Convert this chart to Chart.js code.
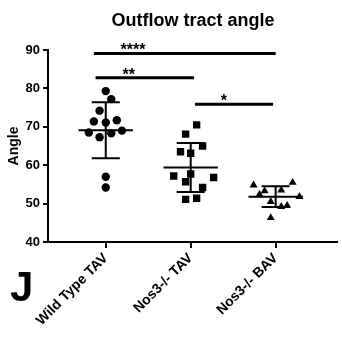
<!DOCTYPE html>
<html><head><meta charset="utf-8">
<script src="https://cdn.jsdelivr.net/npm/chart.js@4/dist/chart.umd.min.js"></script>
<style>html,body{margin:0;padding:0;background:#fff}#wrap{width:342px;height:337px;position:relative}</style>
</head><body><div id="wrap"><canvas id="c"></canvas></div>
<script>
const categories = ['Wild Type TAV', 'Nos3-/- TAV', 'Nos3-/- BAV'];
const yTicks = [40, 50, 60, 70, 80, 90];

const wildTypeValues = [79.3, 77.2, 74.2, 71.4, 71.1, 71.7, 68.5, 67.3, 68.3, 69.0, 57.0, 54.2];
const wildTypeJitter = [0.0, 0.065, -0.073, -0.14, 0.0, 0.13, -0.2, -0.073, 0.065, 0.19, 0.0, 0.0];

const nosTavValues = [70.5, 68.1, 65.0, 63.5, 63.1, 57.2, 57.7, 56.8, 55.7, 54.2, 51.1, 51.4];
const nosTavJitter = [0.07, -0.06, 0.14, -0.12, 0.0, -0.2, 0.0, 0.27, -0.06, 0.14, -0.06, 0.07];

const nosBavValues = [54.8, 55.5, 53.3, 52.4, 53.5, 51.8, 50.5, 49.2, 49.5, 46.3];
const nosBavJitter = [-0.26, 0.2, -0.13, -0.19, 0.066, 0.28, -0.058, 0.066, 0.135, -0.058];

const groupMeans = [69.1, 59.4, 51.8];
const groupSD = [7.3, 6.4, 2.7];

const sigLabels = ['****', '**', '*'];
const sigFrom = [-0.14, -0.12, 1.05];
const sigTo = [2.0, 1.04, 1.97];
const sigLevel = [89.1, 82.8, 75.9];
const sigLabelAt = [0.32, 0.27, 1.39];

const FONT = "'Liberation Sans', Arial, sans-serif";

function pts(idx, vals, jit) {
  return vals.map((v, i) => ({ x: idx + jit[i], y: v }));
}

const overlay = {
  id: 'overlay',
  afterDatasetsDraw(chart) {
    const ctx = chart.ctx, xs = chart.scales.x, ys = chart.scales.y;
    ctx.save();
    ctx.strokeStyle = '#000';
    ctx.lineCap = 'butt';
    groupMeans.forEach((m, i) => {
      const cx = xs.getPixelForValue(i);
      const mx1 = xs.getPixelForValue(i - 0.32), mx2 = xs.getPixelForValue(i + 0.32);
      const cx1 = xs.getPixelForValue(i - 0.165), cx2 = xs.getPixelForValue(i + 0.165);
      const yM = ys.getPixelForValue(m);
      const yU = ys.getPixelForValue(m + groupSD[i]);
      const yL = ys.getPixelForValue(m - groupSD[i]);
      ctx.lineWidth = 2;
      ctx.beginPath();
      ctx.moveTo(mx1, yM); ctx.lineTo(mx2, yM);
      ctx.moveTo(cx1, yU); ctx.lineTo(cx2, yU);
      ctx.moveTo(cx1, yL); ctx.lineTo(cx2, yL);
      ctx.moveTo(cx, yU); ctx.lineTo(cx, yL);
      ctx.stroke();
    });
    ctx.fillStyle = '#000';
    ctx.textAlign = 'center';
    ctx.textBaseline = 'alphabetic';
    sigLabels.forEach((lab, i) => {
      const y = ys.getPixelForValue(sigLevel[i]);
      ctx.lineWidth = 3;
      ctx.beginPath();
      ctx.moveTo(xs.getPixelForValue(sigFrom[i]), y);
      ctx.lineTo(xs.getPixelForValue(sigTo[i]), y);
      ctx.stroke();
      ctx.font = 'bold 16px ' + FONT;
      ctx.fillText(lab, xs.getPixelForValue(sigLabelAt[i]), y + 2);
    });
    ctx.font = 'bold 18px ' + FONT;
    ctx.textAlign = 'center';
    ctx.fillText('Outflow tract angle', 193, 26);
    ctx.font = 'bold 42px ' + FONT;
    ctx.textAlign = 'left';
    ctx.fillText('J', 10, 301);
    ctx.restore();
  }
};

new Chart(document.getElementById('c'), {
  type: 'scatter',
  data: {
    datasets: [
      { data: pts(0, wildTypeValues, wildTypeJitter), pointStyle: 'circle', radius: 4.2, backgroundColor: '#000', borderColor: '#000', borderWidth: 0 },
      { data: pts(1, nosTavValues, nosTavJitter), pointStyle: 'rect', radius: 5.2, backgroundColor: '#000', borderColor: '#000', borderWidth: 0 },
      { data: pts(2, nosBavValues, nosBavJitter), pointStyle: 'triangle', radius: 4.6, backgroundColor: '#000', borderColor: '#000', borderWidth: 0 }
    ]
  },
  options: {
    responsive: true,
    maintainAspectRatio: false,
    animation: false,
    layout: { padding: { top: 50, right: 0, left: 0, bottom: 0 } },
    plugins: { legend: { display: false }, tooltip: { enabled: false }, title: { display: false } },
    scales: {
      x: {
        type: 'linear', min: -0.68, max: 2.72,
        afterBuildTicks: s => { s.ticks = categories.map((c, i) => ({ value: i })); },
        afterFit: s => { s.height = 95; },
        ticks: { callback: v => categories[v], minRotation: 45, maxRotation: 45, color: '#000', font: { family: FONT, size: 14, weight: 'bold' }, padding: 2, autoSkip: false },
        grid: { drawOnChartArea: false, drawTicks: true, tickLength: 6, color: '#000', lineWidth: 2 },
        border: { color: '#000', width: 2 }
      },
      y: {
        min: 40, max: 90,
        afterBuildTicks: s => { s.ticks = yTicks.map(v => ({ value: v })); },
        afterFit: s => { s.width = 48; },
        ticks: { color: '#000', font: { family: FONT, size: 13, weight: 'bold' }, padding: 3 },
        grid: { drawOnChartArea: false, drawTicks: true, tickLength: 5, color: '#000', lineWidth: 2 },
        border: { color: '#000', width: 2 },
        title: { display: true, text: 'Angle', color: '#000', font: { family: FONT, size: 14, weight: 'bold' }, padding: { top: 6, bottom: 0 } }
      }
    }
  },
  plugins: [overlay]
});
</script></body></html>
